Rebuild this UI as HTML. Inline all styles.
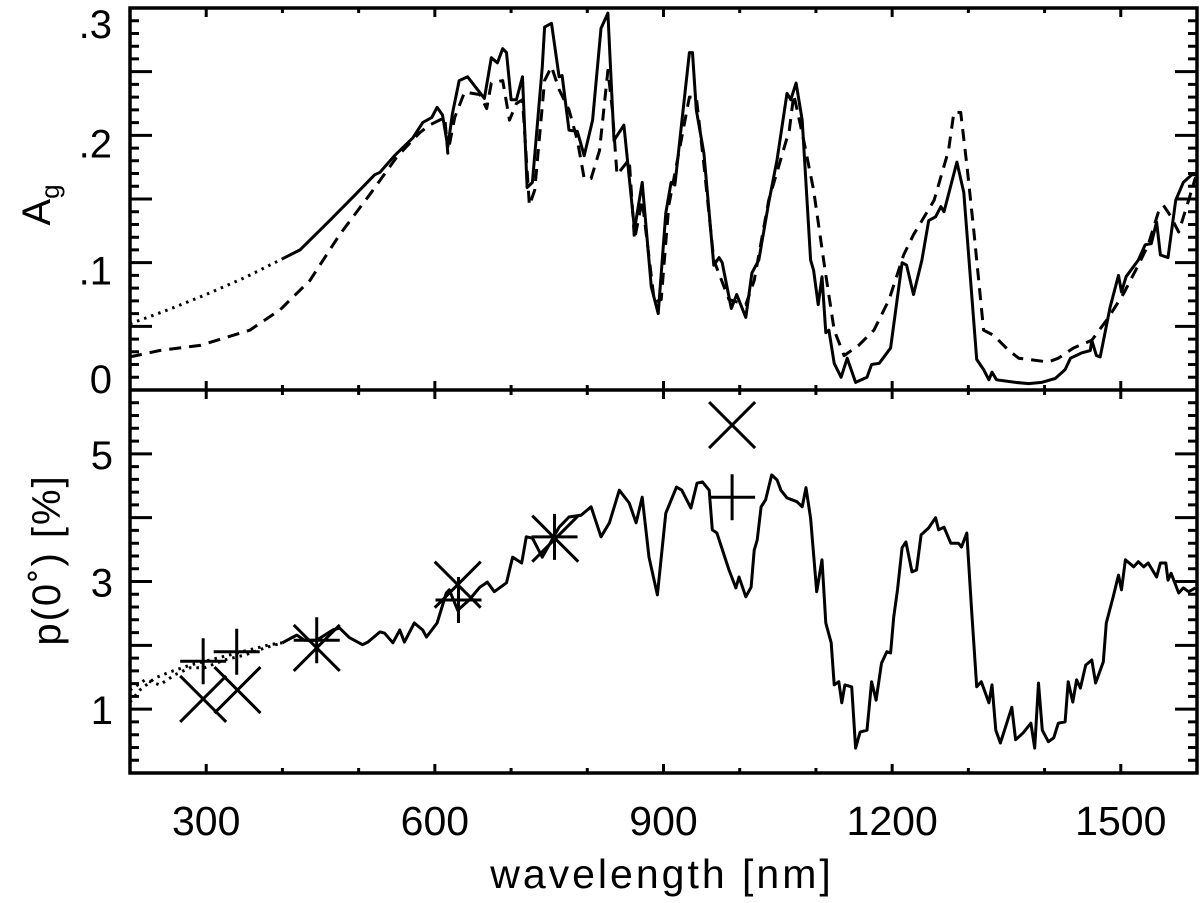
<!DOCTYPE html>
<html><head><meta charset="utf-8"><style>
html,body{margin:0;padding:0;background:#fff;}
svg{display:block;}
text{font-family:"Liberation Sans","DejaVu Sans",sans-serif;fill:#000;}
</style></head><body>
<svg id="chart" width="1200" height="903" viewBox="0 0 1200 903" xmlns="http://www.w3.org/2000/svg">
<g id="marks"></g>
<g id="axes"></g>
<text x="662" y="888" font-size="41" text-anchor="middle" letter-spacing="3">wavelength [nm]</text>
<text transform="translate(50,205) rotate(-90)" font-size="40" text-anchor="middle">A<tspan font-size="26" dy="9">g</tspan></text>
<text transform="translate(60,560) rotate(-90)" font-size="40" text-anchor="middle" letter-spacing="2">p(0˚) [%]</text>
</svg>
<script>
// ---- data ----
const topSolidWl = [400,423,462,495,521,528,547,571,584,596,603,610,617,623,632,643,665,674,682,689,694,700,707,715,721,728,741,744,753,763,767,776,787,796,807,818,827,835,848,862,872,884,893,903,910,915,934,938,943,953,966,973,977,989,996,1008,1016,1025,1038,1049,1062,1067,1074,1082,1093,1097,1103,1108,1113,1117,1124,1133,1141,1152,1167,1173,1183,1198,1213,1219,1228,1239,1248,1257,1264,1268,1285,1294,1311,1320,1327,1331,1337,1362,1379,1396,1414,1427,1434,1448,1460,1462,1468,1473,1486,1497,1501,1507,1523,1532,1540,1547,1552,1562,1572,1582,1593,1598];
const topSolidAg = [0.103,0.110,0.133,0.153,0.169,0.171,0.184,0.198,0.210,0.214,0.222,0.216,0.191,0.217,0.243,0.246,0.229,0.261,0.257,0.268,0.265,0.228,0.228,0.246,0.159,0.163,0.254,0.285,0.288,0.246,0.247,0.204,0.203,0.184,0.212,0.284,0.296,0.196,0.208,0.126,0.163,0.081,0.060,0.139,0.163,0.161,0.265,0.265,0.220,0.186,0.098,0.104,0.100,0.064,0.075,0.057,0.092,0.102,0.147,0.181,0.233,0.228,0.241,0.212,0.102,0.094,0.067,0.089,0.045,0.047,0.021,0.010,0.025,0.006,0.010,0.020,0.021,0.033,0.100,0.098,0.075,0.102,0.133,0.136,0.144,0.140,0.179,0.155,0.024,0.016,0.008,0.014,0.008,0.006,0.005,0.006,0.009,0.016,0.025,0.029,0.031,0.039,0.027,0.026,0.065,0.090,0.077,0.089,0.102,0.114,0.115,0.132,0.106,0.104,0.149,0.163,0.169,0.169];
const topDotWl = [200,250,300,350,400];
const topDotAg = [0.052,0.063,0.075,0.088,0.103];
const topDashWl = [200,239,292,357,397,436,475,514,550,580,593,613,617,626,639,659,668,674,689,698,707,715,724,731,744,753,763,776,787,796,805,816,827,833,839,855,862,872,888,897,907,934,943,953,966,986,1008,1019,1038,1065,1071,1084,1097,1112,1124,1137,1156,1176,1196,1215,1228,1255,1274,1281,1290,1298,1307,1320,1333,1353,1366,1405,1418,1438,1462,1484,1504,1523,1536,1549,1556,1565,1576,1589,1598];
const topDashAg = [0.026,0.031,0.035,0.047,0.063,0.086,0.122,0.153,0.183,0.202,0.208,0.214,0.186,0.214,0.234,0.232,0.221,0.241,0.243,0.212,0.225,0.228,0.145,0.157,0.243,0.254,0.236,0.220,0.196,0.166,0.166,0.188,0.251,0.220,0.169,0.181,0.118,0.149,0.069,0.071,0.145,0.230,0.230,0.177,0.102,0.071,0.067,0.086,0.149,0.204,0.232,0.196,0.157,0.094,0.047,0.027,0.035,0.047,0.071,0.106,0.122,0.149,0.188,0.218,0.218,0.177,0.126,0.047,0.043,0.031,0.025,0.022,0.025,0.033,0.039,0.057,0.076,0.098,0.114,0.139,0.145,0.137,0.124,0.149,0.167];

const botSolidWl = [400,414,419,429,445,466,475,488,505,512,528,534,545,554,560,573,584,589,603,615,619,630,645,659,669,678,694,702,714,720,728,741,763,776,792,805,818,829,842,855,864,872,881,892,903,917,924,936,944,951,960,964,970,986,995,999,1008,1015,1019,1023,1028,1034,1042,1049,1054,1062,1075,1082,1087,1093,1101,1108,1113,1120,1124,1130,1134,1138,1147,1152,1158,1167,1173,1179,1186,1193,1198,1202,1207,1213,1218,1226,1232,1238,1248,1257,1261,1268,1277,1287,1291,1298,1304,1311,1317,1327,1331,1336,1342,1357,1362,1372,1382,1387,1392,1397,1405,1412,1418,1427,1431,1437,1442,1447,1454,1462,1467,1477,1481,1490,1497,1501,1506,1517,1523,1530,1536,1547,1552,1559,1562,1566,1576,1582,1589,1598];
const botSolidP = [2.04,2.13,2.16,2.08,2.08,2.24,2.27,2.12,2.01,2.05,2.21,2.19,2.04,2.24,2.05,2.35,2.24,2.13,2.35,2.82,2.87,2.55,2.71,2.91,2.99,2.84,2.98,3.38,3.29,3.70,3.68,3.38,3.85,4.01,4.04,4.17,3.70,3.92,4.43,4.23,3.92,4.32,3.38,2.79,4.07,4.48,4.43,4.15,4.54,4.56,4.43,3.81,3.76,3.18,2.90,3.07,2.76,2.91,3.49,3.65,4.17,4.28,4.67,4.59,4.43,4.31,4.25,4.17,4.47,3.99,2.84,3.34,2.35,2.04,1.38,1.43,1.10,1.38,1.35,0.39,0.64,0.67,1.43,1.14,1.72,1.90,1.88,2.44,2.87,3.53,3.62,3.15,3.18,3.73,3.84,4.00,3.81,3.85,3.60,3.60,3.54,3.76,2.60,1.35,1.43,1.10,1.38,0.67,0.47,1.03,0.52,0.63,0.78,0.39,1.41,0.67,0.49,0.55,0.78,0.80,1.43,1.11,1.46,1.33,1.69,1.77,1.41,1.74,2.35,2.76,3.10,2.87,3.34,3.23,3.31,3.23,3.29,3.07,3.29,3.29,3.02,3.13,2.82,2.90,2.84,2.90];
const botDotAWl = [200,213,233,252,279,305,331,357,383,400];
const botDotAP = [1.11,1.30,1.49,1.58,1.69,1.77,1.85,1.93,2.01,2.04];
const botDotBWl = [200,220,239,259,279,298,324,351,377,400];
const botDotBP = [1.30,1.46,1.38,1.54,1.65,1.65,1.77,1.85,1.96,2.04];
const plusWl = [296,340,445,631,757,990];
const plusP = [1.75,1.90,2.08,2.71,3.70,4.32];
const crossWl = [296,341,445,630,758,990];
const crossP = [1.16,1.30,1.96,2.95,3.67,5.45];
const xTicks = [300,600,900,1200,1500];
const topYTicks = [0,0.1,0.2,0.3];
const topYLabels = ["0",".1",".2",".3"];
const botYTicks = [1,3,5];

// ---- axes mapping ----
const L=130,R=1197,T=8,M=390,B=773;
const X0=200,X1=1600;
const sx = v => L + (v-X0)/(X1-X0)*(R-L);
const syTop = v => M - v/0.3*(M-T);
const syBot = v => B - v/6*(B-M);
const NS="http://www.w3.org/2000/svg";
const marks=document.getElementById('marks');
const axes=document.getElementById('axes');
function mk(tag,attrs,parent){const e=document.createElementNS(NS,tag);for(const k in attrs)e.setAttribute(k,attrs[k]);parent.appendChild(e);return e;}
function line(xs,ys,fx,fy,dash,name,w){
  const d=xs.map((x,i)=>(i?'L':'M')+fx(x).toFixed(1)+','+fy(ys[i]).toFixed(1)).join('');
  const p=mk('path',{d:d,fill:'none',stroke:'#000','stroke-width':w||3,'stroke-linejoin':'round'},marks);
  if(dash)p.setAttribute('stroke-dasharray',dash);
  
  
}
line(topDotWl,topDotAg,sx,syTop,'2.5 5','top-dotted-line',3);
line(topDashWl,topDashAg,sx,syTop,'12 8','top-dashed-line',3);
line(topSolidWl,topSolidAg,sx,syTop,null,'top-solid-line',3);
line(botDotAWl,botDotAP,sx,syBot,'2.5 5','bottom-dotted-line-a',3);
line(botDotBWl,botDotBP,sx,syBot,'2.5 5','bottom-dotted-line-b',3);
line(botSolidWl,botSolidP,sx,syBot,null,'bottom-solid-line',3);
plusWl.forEach((w,i)=>{
  const cx=sx(w),cy=syBot(plusP[i]);
  const p=mk('path',{d:`M${cx-23},${cy}H${cx+23}M${cx},${cy-23}V${cy+23}`,stroke:'#000','stroke-width':3,fill:'none'},marks);
  
  
});
crossWl.forEach((w,i)=>{
  const cx=sx(w),cy=syBot(crossP[i]);
  const p=mk('path',{d:`M${cx-23},${cy-23}L${cx+23},${cy+23}M${cx-23},${cy+23}L${cx+23},${cy-23}`,stroke:'#000','stroke-width':3,fill:'none'},marks);
  
  
});
// frames
let d='';
for(let v=X0;v<=X1;v+=100){
  const x=sx(v), len=(v%300===0)?9:5;
  d+=`M${x},${T}v${len}M${x},${M}v${-len}M${x},${M}v${len}M${x},${B}v${-len}`;
}
for(let k=0;k<=30;k++){const v=k/100,y=syTop(v),len=(k%5===0)?22:9;d+=`M${L},${y}h${len}M${R},${y}h${-len}`;}
for(let k=0;k<=30;k++){const v=k*0.2,y=syBot(v),len=(k%5===0)?22:9;d+=`M${L},${y}h${len}M${R},${y}h${-len}`;}
const tk=mk('path',{d:d,stroke:'#000','stroke-width':3,fill:'none'},axes);


const fr=mk('path',{d:`M${L},${T}H${R}V${B}H${L}ZM${L},${M}H${R}`,stroke:'#000','stroke-width':3.5,fill:'none'},axes);


xTicks.forEach(v=>{
  const t=mk('text',{x:sx(v),y:835,'font-size':41,'text-anchor':'middle'},axes);t.textContent=v;
  
  
});
topYTicks.forEach((v,i)=>{
  const t=mk('text',{x:112,y:syTop(v)+(i===0?3:i===3?30:22),'font-size':40,'text-anchor':'end'},axes);t.textContent=topYLabels[i];
  
  
});
botYTicks.forEach(v=>{
  const t=mk('text',{x:113,y:syBot(v)+15,'font-size':40,'text-anchor':'end'},axes);t.textContent=v;
  
  
});
</script>
</body></html>
